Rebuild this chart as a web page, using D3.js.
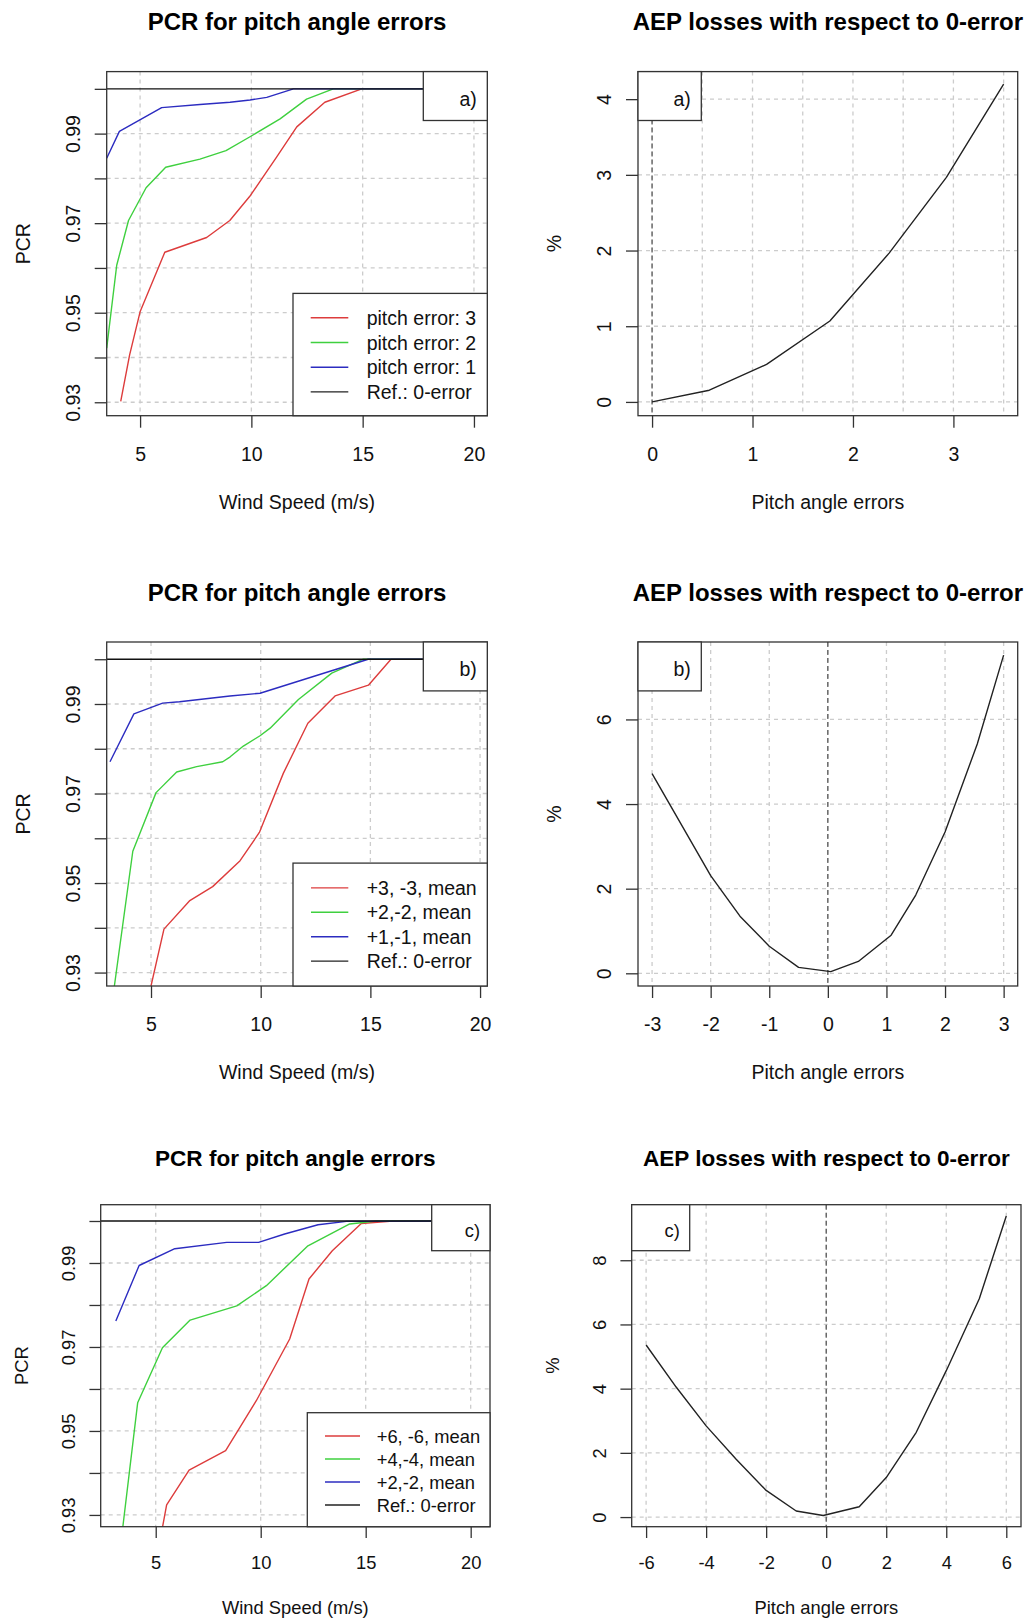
<!DOCTYPE html>
<html>
<head>
<meta charset="utf-8">
<script src="https://cdn.jsdelivr.net/npm/d3@7"></script>
<style>
  html, body { margin: 0; padding: 0; background: #ffffff; }
  svg { display: block; font-family: "Liberation Sans", Arial, Helvetica, sans-serif; }
</style>
</head>
<body>
<svg id="chart" width="1032" height="1621"></svg>
<script>
// ---------------- DATA ----------------
// Panel a) PCR vs wind speed
const aRedWind   = [4.13, 4.53, 5.0, 6.11, 7.99, 9.03, 9.93, 11.14, 12.04, 13.3, 14.96, 20.0];
const aRedPCR    = [0.9302, 0.9406, 0.9502, 0.9635, 0.9668, 0.9706, 0.976, 0.9848, 0.9915, 0.997, 1.0, 1.0];
const aGreenWind = [3.5, 3.95, 4.48, 5.27, 6.15, 7.69, 8.86, 9.94, 11.29, 12.48, 13.68, 20.0];
const aGreenPCR  = [0.9421, 0.9606, 0.9706, 0.9779, 0.9825, 0.9843, 0.9862, 0.9893, 0.9933, 0.9977, 1.0, 1.0];
const aBlueWind  = [3.5, 4.07, 5.97, 7.69, 9.04, 9.94, 10.69, 11.89, 20.0];
const aBluePCR   = [0.9845, 0.9905, 0.9958, 0.9965, 0.997, 0.9975, 0.9981, 1.0, 1.0];

// Panel b) PCR vs wind speed
const bRedWind   = [5.0, 5.59, 6.75, 7.81, 9.06, 9.94, 11.03, 12.15, 13.39, 14.91, 15.94, 20.0];
const bRedPCR    = [0.927, 0.9397, 0.946, 0.9492, 0.955, 0.9613, 0.9745, 0.9857, 0.9918, 0.9942, 1.0, 1.0];
const bGreenWind = [3.33, 4.17, 5.23, 6.17, 7.08, 8.27, 8.61, 9.21, 9.97, 10.43, 11.72, 13.24, 14.68, 20.0];
const bGreenPCR  = [0.927, 0.9571, 0.9702, 0.9748, 0.976, 0.9771, 0.9782, 0.9806, 0.9829, 0.9846, 0.991, 0.9969, 1.0, 1.0];
const bBlueWind  = [3.13, 4.22, 5.53, 6.3, 8.6, 9.97, 14.9, 20.0];
const bBluePCR   = [0.9771, 0.9878, 0.9902, 0.9905, 0.9918, 0.9924, 1.0, 1.0];

// Panel c) PCR vs wind speed
const cRedWind   = [5.32, 5.52, 6.59, 8.33, 8.93, 9.79, 11.38, 12.3, 13.41, 14.79, 16.3, 20.0];
const cRedPCR    = [0.927, 0.9324, 0.9407, 0.9453, 0.9502, 0.9572, 0.9719, 0.9862, 0.9929, 0.9994, 1.0, 1.0];
const cGreenWind = [3.43, 4.14, 5.32, 6.64, 8.86, 10.27, 12.25, 14.24, 15.5, 20.0];
const cGreenPCR  = [0.927, 0.9567, 0.9698, 0.9764, 0.9798, 0.9846, 0.9941, 0.9993, 1.0, 1.0];
const cBlueWind  = [3.1, 4.21, 5.91, 8.38, 9.9, 11.14, 12.73, 14.08, 20.0];
const cBluePCR   = [0.9762, 0.9894, 0.9934, 0.9949, 0.9949, 0.9969, 0.9991, 0.9999, 1.0];

// AEP losses (%)
const aepAErr  = [0, 0.57, 1.14, 1.77, 2.36, 2.93, 3.5];
const aepALoss = [0, 0.155, 0.496, 1.069, 1.966, 2.967, 4.2];
const aepBErr  = [-3, -2, -1.5, -1, -0.5, 0.05, 0.52, 1.08, 1.5, 2.0, 2.55, 3.0];
const aepBLoss = [4.72, 2.31, 1.35, 0.64, 0.14, 0.04, 0.28, 0.9, 1.85, 3.34, 5.42, 7.52];
const aepCErr  = [-6, -5, -4, -3, -2, -1, -0.1, 1.1, 2, 3, 4, 5.1, 6];
const aepCLoss = [5.36, 4.05, 2.84, 1.8, 0.83, 0.19, 0.05, 0.32, 1.23, 2.64, 4.56, 6.8, 9.38];

// Legends / labels
const legendA = ["pitch error: 3", "pitch error: 2", "pitch error: 1", "Ref.: 0-error"];
const legendB = ["+3, -3, mean", "+2,-2, mean", "+1,-1, mean", "Ref.: 0-error"];
const legendC = ["+6, -6, mean", "+4,-4, mean", "+2,-2, mean", "Ref.: 0-error"];
const panelTags = ["a)", "b)", "c)"];

// Ticks
const pcrYTicks    = [0.93, 0.94, 0.95, 0.96, 0.97, 0.98, 0.99, 1.00];
const pcrYLabels   = [0.93, 0.95, 0.97, 0.99];
const windTicks    = [5, 10, 15, 20];
const aepAXTicks   = [0, 1, 2, 3];
const aepAXGrid    = [0, 0.5, 1, 1.5, 2, 2.5, 3, 3.5];
const aepAYTicks   = [0, 1, 2, 3, 4];
const aepBXTicks   = [-3, -2, -1, 0, 1, 2, 3];
const aepBYTicks   = [0, 2, 4, 6];
const aepCXTicks   = [-6, -4, -2, 0, 2, 4, 6];
const aepCYTicks   = [0, 2, 4, 6, 8];

const titlePCR = "PCR for pitch angle errors";
const titleAEP = "AEP losses with respect to 0-error";

// ---------------- DRAW ----------------
const svg = d3.select("#chart");
const COLORS = ["#dd3c3c", "#3fd03f", "#2c2cc0", "#222222"];
const zip = (xs, ys) => xs.map((v, i) => [v, ys[i]]);
const plainInt = d => String(Math.round(d));   // ASCII hyphen-minus like the original
let clipId = 0;

function drawPanel(p) {
  const s = p.scale;
  const fs = 19.5 * s;
  const x = d3.scaleLinear().domain(p.xdom).range([p.L, p.R]);
  const y = d3.scaleLinear().domain(p.ydom).range([p.B, p.T]);
  const g = svg.append("g");
  const cid = "clip" + (clipId++);
  g.append("clipPath").attr("id", cid).append("rect")
    .attr("x", p.L).attr("y", p.T).attr("width", p.R - p.L).attr("height", p.B - p.T);

  // grid
  const grid = g.append("g").attr("stroke", "#cccccc").attr("stroke-width", 1.3)
    .attr("stroke-dasharray", "4,4");
  grid.selectAll("line.v").data(p.xgrid).join("line").attr("class", "v")
    .attr("x1", d => x(d)).attr("x2", d => x(d)).attr("y1", p.T).attr("y2", p.B);
  grid.selectAll("line.h").data(p.ygrid).join("line").attr("class", "h")
    .attr("y1", d => y(d)).attr("y2", d => y(d)).attr("x1", p.L).attr("x2", p.R);

  const plot = g.append("g").attr("clip-path", `url(#${cid})`);
  if (p.zeroLine) {
    plot.append("line").attr("x1", x(0)).attr("x2", x(0)).attr("y1", p.T).attr("y2", p.B)
      .attr("stroke", "#444").attr("stroke-width", 1.1).attr("stroke-dasharray", "5,3");
  }
  const line = d3.line().x(d => x(d[0])).y(d => y(d[1]));
  p.series.forEach(sr => {
    plot.append("path").datum(sr.data).attr("d", line).attr("fill", "none")
      .attr("stroke", sr.color).attr("stroke-width", 1.4).attr("stroke-linejoin", "round");
  });
  if (p.refLine) {
    plot.append("line").attr("x1", p.L).attr("x2", p.R).attr("y1", y(1)).attr("y2", y(1))
      .attr("stroke", "#111").attr("stroke-width", 1.4);
  }

  // axes
  const xa = g.append("g").attr("transform", `translate(0,${p.B})`)
    .call(d3.axisBottom(x).tickValues(p.xticks).tickSize(12 * s).tickSizeOuter(0)
      .tickPadding(19 * s).tickFormat(plainInt));
  xa.select(".domain").remove();
  xa.selectAll("line").attr("stroke", "#333").attr("stroke-width", 1.3);
  xa.selectAll("text").attr("font-size", fs).attr("fill", "#111")
    .attr("font-family", "Liberation Sans, Arial, sans-serif");

  const ya = g.append("g").attr("transform", `translate(${p.L},0)`)
    .call(d3.axisLeft(y).tickValues(p.yticks).tickSize(12 * s).tickSizeOuter(0)
      .tickFormat(d => p.ylabels.some(v => Math.abs(v - d) < 1e-9) ? p.yfmt(d) : ""));
  ya.select(".domain").remove();
  ya.selectAll("line").attr("stroke", "#333").attr("stroke-width", 1.3);
  ya.selectAll("text").attr("font-size", fs).attr("fill", "#111")
    .attr("font-family", "Liberation Sans, Arial, sans-serif")
    .attr("x", 0).attr("y", 0).attr("dy", 0).attr("text-anchor", "middle")
    .attr("transform", `translate(${-27 * s},0) rotate(-90)`);

  // box
  g.append("rect").attr("x", p.L).attr("y", p.T).attr("width", p.R - p.L).attr("height", p.B - p.T)
    .attr("fill", "none").attr("stroke", "#333").attr("stroke-width", 1.3);

  // legend
  if (p.legend) {
    const lg = p.legend;
    g.append("rect").attr("x", lg.L).attr("y", lg.T).attr("width", p.R - lg.L).attr("height", p.B - lg.T)
      .attr("fill", "#fff").attr("stroke", "#333").attr("stroke-width", 1.3);
    lg.labels.forEach((t, i) => {
      const yy = lg.T + lg.first + i * lg.step;
      g.append("line").attr("x1", lg.x1).attr("x2", lg.x2).attr("y1", yy).attr("y2", yy)
        .attr("stroke", COLORS[i]).attr("stroke-width", 1.4);
      g.append("text").attr("x", lg.tx).attr("y", yy + 7 * s).attr("font-size", fs)
        .attr("fill", "#111").text(t);
    });
  }
  // tag box
  const tg = p.tag;
  g.append("rect").attr("x", tg.L).attr("y", p.T).attr("width", tg.R - tg.L).attr("height", tg.B - p.T)
    .attr("fill", "#fff").attr("stroke", "#333").attr("stroke-width", 1.3);
  g.append("text").attr("x", tg.R - 10.5 * s).attr("y", p.T + 34 * s).attr("text-anchor", "end")
    .attr("font-size", fs).attr("fill", "#111").text(tg.text);

  // titles
  g.append("text").attr("x", (p.L + p.R) / 2).attr("y", p.T - 41.3 * s).attr("text-anchor", "middle")
    .attr("font-size", 24 * s).attr("font-weight", "bold").attr("fill", "#000").text(p.title);
  g.append("text").attr("x", (p.L + p.R) / 2).attr("y", p.B + 93 * s).attr("text-anchor", "middle")
    .attr("font-size", fs).attr("fill", "#111").text(p.xlabel);
  const yc = (p.T + p.B) / 2, yx = p.L - 77 * s;
  g.append("text").attr("transform", `translate(${yx},${yc}) rotate(-90)`).attr("text-anchor", "middle")
    .attr("font-size", fs).attr("fill", "#111").text(p.ylabel);
}

const pcrFmt = d3.format(".2f");

function pcrPanel(L, R, T, B, xdom, ydom, s, reds, greens, blues, legendLabels, legendBox, tag) {
  return {
    L, R, T, B, xdom, ydom, scale: s,
    xticks: windTicks, xgrid: windTicks,
    yticks: pcrYTicks, ygrid: pcrYTicks.slice(0, 7), ylabels: pcrYLabels, yfmt: pcrFmt,
    refLine: true, zeroLine: false,
    series: [
      { data: reds, color: COLORS[0] },
      { data: greens, color: COLORS[1] },
      { data: blues, color: COLORS[2] }
    ],
    legend: Object.assign({ labels: legendLabels }, legendBox),
    tag,
    title: titlePCR, xlabel: "Wind Speed (m/s)", ylabel: "PCR"
  };
}
function aepPanel(L, R, T, B, xdom, ydom, s, err, loss, xticks, xgrid, yticks, tag) {
  return {
    L, R, T, B, xdom, ydom, scale: s,
    xticks, xgrid, yticks, ygrid: yticks, ylabels: yticks, yfmt: plainInt,
    refLine: false, zeroLine: true,
    series: [{ data: zip(err, loss), color: "#222" }],
    legend: null, tag,
    title: titleAEP, xlabel: "Pitch angle errors", ylabel: "%"
  };
}

const panels = [
  pcrPanel(106.7, 487.3, 71.6, 415.7, [3.5, 20.6], [0.927, 1.00385], 1,
    zip(aRedWind, aRedPCR), zip(aGreenWind, aGreenPCR), zip(aBlueWind, aBluePCR), legendA,
    { L: 293, T: 293.4, first: 24.4, step: 24.7, x1: 310.7, x2: 348.3, tx: 366.7 },
    { L: 423.3, R: 487.3, B: 120.5, text: panelTags[0] }),
  aepPanel(638, 1017.7, 71.6, 415.7, [-0.14, 3.64], [-0.182, 4.364], 1,
    aepAErr, aepALoss, aepAXTicks, aepAXGrid, aepAYTicks,
    { L: 638, R: 701.3, B: 120.5, text: panelTags[0] }),
  pcrPanel(106.7, 487.3, 642.0, 986.0, [2.98, 20.33], [0.927, 1.00385], 1,
    zip(bRedWind, bRedPCR), zip(bGreenWind, bGreenPCR), zip(bBlueWind, bBluePCR), legendB,
    { L: 293, T: 863.1, first: 24.8, step: 24.4, x1: 311, x2: 348.3, tx: 366.7 },
    { L: 423.3, R: 487.3, B: 690.9, text: panelTags[1] }),
  aepPanel(638, 1017.7, 642.0, 986.0, [-3.24, 3.24], [-0.3, 7.83], 1,
    aepBErr, aepBLoss, aepBXTicks, aepBXTicks, aepBYTicks,
    { L: 638, R: 701.3, B: 690.9, text: panelTags[1] }),
  pcrPanel(100.7, 490, 1204.7, 1526.7, [2.38, 20.92], [0.9272, 1.00388], 0.94,
    zip(cRedWind, cRedPCR), zip(cGreenWind, cGreenPCR), zip(cBlueWind, cBluePCR), legendC,
    { L: 307.3, T: 1412.7, first: 23.3, step: 23, x1: 325, x2: 360, tx: 376.7 },
    { L: 431.7, R: 490, B: 1250.7, text: panelTags[2] }),
  aepPanel(631.7, 1021, 1204.7, 1526.7, [-6.48, 6.49], [-0.3, 9.73], 0.94,
    aepCErr, aepCLoss, aepCXTicks, aepCXTicks, aepCYTicks,
    { L: 631.7, R: 689.7, B: 1250.7, text: panelTags[2] })
];

panels.forEach(drawPanel);
</script>
</body>
</html>
